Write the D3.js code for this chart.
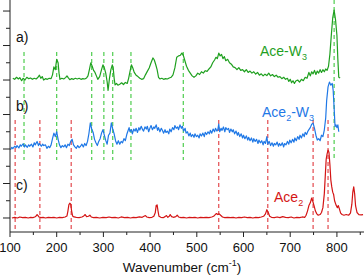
<!DOCTYPE html>
<html>
<head>
<meta charset="utf-8">
<title>Raman spectra</title>
<style>
  body { margin: 0; background: #fff; }
  svg { display: block; font-family: "Liberation Sans", Arial, sans-serif; }
</style>
<script src="https://d3js.org/d3.v7.min.js"></script>
</head>
<body>
<div id="chart"></div>
<script>

// spectra: [wavenumber, intensity above own baseline]
var aceW3 = [[106,0.05],[110,0.02],[114,0.08],[118,0.03],[121,0.07],[125,-0.02],[128,0.05],[132,0.0],[136,0.08],[140,0.04],[144,0.06],[148,0.02],[152,0.05],[156,0.03],[160,0.08],[163,0.14],[166,0.05],[169,0.1],[172,0.0],[176,0.04],[180,0.02],[184,0.05],[188,0.04],[191,0.15],[194,0.38],[197,0.3],[200,0.6],[203,0.5],[205,0.2],[207,0.02],[211,0.05],[215,0.03],[219,0.07],[222,0.12],[225,0.06],[228,0.01],[232,0.04],[236,0.02],[240,0.05],[244,0.03],[248,0.05],[252,0.02],[256,0.04],[260,0.03],[264,0.06],[267,0.12],[270,0.3],[273,0.5],[276,0.4],[279,0.28],[282,0.22],[285,0.12],[288,0.02],[292,0.1],[296,0.3],[299,0.44],[302,0.35],[305,0.2],[308,-0.05],[310,-0.3],[313,0.05],[316,0.3],[319,0.44],[321,0.35],[323,0.05],[325,-0.14],[328,-0.1],[331,-0.15],[335,-0.12],[339,-0.08],[343,-0.13],[347,-0.07],[351,-0.1],[354,0.05],[357,0.25],[360,0.44],[363,0.35],[366,0.22],[370,0.14],[374,0.1],[378,0.05],[382,0.02],[386,0.04],[390,0.15],[394,0.25],[398,0.35],[402,0.5],[406,0.64],[409,0.58],[412,0.45],[415,0.3],[418,0.08],[421,0.03],[425,0.05],[429,0.02],[433,0.04],[437,0.03],[441,0.06],[445,0.08],[449,0.15],[453,0.35],[457,0.66],[461,0.7],[465,0.72],[468,0.78],[471,0.72],[474,0.58],[478,0.4],[482,0.28],[486,0.2],[490,0.12],[494,0.08],[498,0.12],[502,0.2],[506,0.16],[510,0.24],[514,0.2],[518,0.27],[522,0.25],[526,0.32],[530,0.38],[534,0.5],[538,0.58],[541,0.66],[544,0.62],[547,0.78],[550,0.7],[553,0.74],[556,0.62],[559,0.68],[562,0.56],[566,0.6],[570,0.5],[574,0.46],[578,0.38],[582,0.36],[586,0.3],[590,0.36],[594,0.28],[598,0.3],[602,0.24],[606,0.3],[610,0.22],[614,0.26],[618,0.2],[622,0.24],[626,0.17],[630,0.22],[634,0.14],[638,0.18],[642,0.12],[646,0.17],[650,0.13],[654,0.2],[658,0.12],[662,0.16],[666,0.1],[670,0.14],[674,0.08],[678,0.1],[682,0.04],[686,0.08],[690,0.02],[694,0.05],[697,-0.04],[700,0.02],[703,-0.08],[706,-0.02],[709,-0.1],[712,-0.03],[716,0.0],[720,-0.06],[724,0.02],[728,-0.02],[732,0.08],[736,0.05],[740,0.22],[743,0.12],[746,0.24],[749,0.18],[752,0.28],[755,0.16],[758,0.26],[761,0.2],[764,0.3],[767,0.22],[770,0.3],[773,0.24],[776,0.32],[779,0.28],[782,0.4],[785,0.75],[788,1.3],[791,1.8],[794,2.03],[797,1.75],[800,1.3],[802,0.6],[804,0.08],[807,0.06]];

var ace2W3 = [[101,-0.02],[104,0.05],[106,0.01],[110,0.08],[113,0.04],[115,0.1],[119,0.03],[122,0.12],[124,0.08],[128,0.15],[131,0.06],[133,0.12],[137,0.05],[140,0.12],[142,0.08],[146,0.14],[149,0.06],[152,0.18],[154,0.12],[158,0.22],[161,0.1],[163,0.16],[167,0.08],[170,0.14],[172,0.1],[176,0.12],[179,0.02],[182,0.08],[185,0.04],[188,0.12],[191,0.3],[194,0.46],[197,0.36],[200,0.5],[203,0.28],[206,0.12],[209,0.04],[212,0.1],[215,0.06],[218,0.12],[221,0.04],[224,0.14],[227,0.1],[230,0.22],[233,0.28],[236,0.12],[239,0.06],[242,0.02],[245,0.1],[248,0.04],[251,0.08],[254,0.14],[257,0.06],[260,0.16],[263,0.1],[266,0.22],[269,0.45],[272,0.76],[275,0.58],[278,0.48],[281,0.28],[284,0.18],[287,0.1],[290,0.22],[293,0.3],[296,0.46],[299,0.56],[302,0.4],[305,0.25],[308,0.14],[311,0.4],[314,0.46],[317,0.76],[320,0.58],[323,0.44],[326,0.24],[329,0.14],[332,0.24],[335,0.14],[338,0.22],[341,0.18],[344,0.3],[347,0.24],[350,0.42],[352,0.5],[355,0.62],[357,0.5],[360,0.56],[362,0.44],[365,0.58],[368,0.52],[370,0.6],[373,0.48],[376,0.62],[378,0.55],[381,0.66],[384,0.56],[386,0.52],[389,0.64],[392,0.58],[394,0.66],[397,0.5],[400,0.62],[402,0.68],[405,0.56],[408,0.64],[410,0.6],[413,0.7],[416,0.54],[418,0.62],[421,0.5],[424,0.6],[426,0.55],[429,0.46],[432,0.56],[434,0.48],[437,0.52],[440,0.44],[442,0.58],[445,0.5],[448,0.62],[451,0.56],[453,0.68],[456,0.6],[459,0.64],[461,0.56],[464,0.7],[467,0.6],[469,0.66],[472,0.52],[475,0.6],[477,0.46],[480,0.5],[483,0.38],[486,0.46],[488,0.36],[491,0.42],[494,0.34],[496,0.44],[499,0.36],[502,0.4],[505,0.32],[507,0.44],[510,0.38],[513,0.46],[516,0.36],[518,0.48],[521,0.42],[524,0.5],[527,0.44],[529,0.54],[532,0.46],[535,0.58],[538,0.5],[540,0.6],[543,0.52],[545,0.56],[547,0.72],[549,0.5],[552,0.6],[554,0.54],[557,0.64],[560,0.5],[562,0.62],[565,0.56],[568,0.6],[570,0.48],[573,0.58],[576,0.5],[578,0.56],[581,0.44],[584,0.52],[587,0.4],[589,0.48],[592,0.36],[595,0.44],[598,0.32],[600,0.4],[603,0.3],[606,0.38],[609,0.26],[611,0.34],[614,0.24],[617,0.32],[620,0.2],[622,0.3],[625,0.22],[628,0.28],[631,0.16],[633,0.26],[636,0.18],[639,0.24],[642,0.12],[644,0.22],[647,0.16],[650,0.36],[652,0.14],[655,0.22],[658,0.1],[661,0.18],[664,0.08],[666,0.16],[669,0.12],[672,0.2],[675,0.08],[677,0.16],[680,0.1],[683,0.18],[686,0.06],[688,0.16],[691,0.12],[694,0.22],[697,0.14],[699,0.26],[702,0.18],[705,0.28],[708,0.2],[710,0.32],[713,0.24],[716,0.36],[719,0.28],[721,0.4],[724,0.32],[727,0.44],[730,0.36],[732,0.48],[735,0.42],[738,0.52],[740,0.56],[743,0.62],[746,0.72],[749,0.75],[752,0.6],[755,0.4],[758,0.26],[761,0.3],[764,0.24],[767,0.4],[770,0.36],[773,0.55],[776,0.9],[778,1.4],[781,1.8],[784,1.94],[787,1.85],[790,1.9],[792,1.7],[794,1.2],[796,0.65],[798,0.7],[800,0.62],[802,0.7],[804,0.5]];

var ace2 = [[104,0.0],[110,0.02],[116,0.0],[121,0.03],[127,0.01],[133,0.02],[139,0.0],[144,0.02],[149,0.01],[153,0.03],[156,0.06],[158,0.1],[160,0.07],[162,0.03],[166,0.01],[171,0.02],[176,0.0],[182,0.02],[188,0.01],[194,0.02],[200,0.0],[206,0.02],[212,0.01],[218,0.03],[222,0.06],[224,0.2],[226,0.38],[228,0.43],[230,0.4],[232,0.2],[234,0.06],[237,0.03],[242,0.02],[248,0.01],[254,0.03],[258,0.06],[261,0.1],[264,0.04],[268,0.05],[271,0.08],[274,0.03],[279,0.01],[285,0.02],[292,0.0],[299,0.02],[306,0.01],[312,0.03],[318,0.01],[325,0.02],[332,0.0],[338,0.03],[345,0.01],[352,0.02],[358,0.0],[364,0.02],[370,0.01],[377,0.03],[383,0.02],[387,0.05],[390,0.07],[393,0.03],[398,0.01],[404,0.02],[408,0.05],[411,0.15],[413,0.36],[415,0.38],[417,0.2],[419,0.05],[423,0.02],[428,0.01],[432,0.04],[435,0.07],[438,0.02],[441,0.05],[443,0.1],[446,0.04],[450,0.02],[455,0.04],[458,0.08],[461,0.03],[466,0.01],[472,0.02],[478,0.0],[484,0.02],[490,0.01],[496,0.02],[502,0.0],[508,0.02],[514,0.01],[520,0.02],[526,0.01],[532,0.03],[536,0.05],[539,0.09],[542,0.13],[545,0.1],[548,0.12],[551,0.08],[555,0.03],[560,0.01],[566,0.02],[572,0.01],[578,0.02],[584,0.0],[590,0.02],[596,0.01],[602,0.03],[608,0.01],[614,0.02],[620,0.0],[626,0.02],[632,0.01],[638,0.03],[643,0.05],[647,0.12],[650,0.24],[653,0.16],[656,0.05],[660,0.02],[666,0.01],[672,0.03],[678,0.01],[684,0.04],[690,0.02],[696,0.01],[702,0.03],[708,0.0],[714,0.02],[720,0.01],[726,0.03],[731,0.02],[734,0.08],[737,0.2],[740,0.36],[743,0.44],[746,0.58],[748,0.5],[751,0.36],[754,0.2],[757,0.12],[760,0.08],[764,0.1],[767,0.16],[770,0.3],[773,0.7],[775,1.2],[777,1.7],[779,1.86],[781,1.97],[783,1.9],[785,1.55],[787,1.1],[789,0.9],[791,0.75],[793,0.68],[795,0.5],[798,0.38],[801,0.3],[803,0.36],[805,0.28],[808,0.14],[811,0.1],[815,0.08],[820,0.1],[825,0.08],[829,0.14],[832,0.4],[834,0.75],[836,0.9],[838,0.7],[840,0.35],[843,0.16],[847,0.1],[852,0.09],[856,0.1]];

var baselines = [4, 2, 0];
var seriesColors = ["#1fa01f", "#1f78e6", "#d41515"];

// marker lines (wavenumbers)
var greenMarkers = [130, 200, 275, 301, 320, 359, 471];
var greenTallMarker = [794];
var redMarkers = [111, 164, 231, 547, 652, 749, 781];

var xTicks = [100, 200, 300, 400, 500, 600, 700, 800];
var xMinorTicks = [150, 250, 350, 450, 550, 650, 750, 850];

var width = 364, height = 278;
var svg = d3.select("#chart").append("svg")
    .attr("width", width)
    .attr("height", height);

var x = d3.scaleLinear().domain([100, 858]).range([10, 364]);
var y = d3.scaleLinear().domain([-0.406, 6.32]).range([232, 0]);

// dashed marker lines
svg.selectAll(".gmark")
    .data(greenMarkers)
    .enter().append("line")
    .attr("x1", d => x(d)).attr("x2", d => x(d))
    .attr("y1", y(4.81)).attr("y2", y(1.68))
    .attr("stroke", "#3ec83e")
    .attr("stroke-width", 1.1)
    .attr("stroke-dasharray", "4,3");

svg.selectAll(".gtall")
    .data(greenTallMarker)
    .enter().append("line")
    .attr("x1", d => x(d)).attr("x2", d => x(d))
    .attr("y1", y(6.32)).attr("y2", y(1.74))
    .attr("stroke", "#3ec83e")
    .attr("stroke-width", 1.1)
    .attr("stroke-dasharray", "4,3");

svg.selectAll(".rmark")
    .data(redMarkers)
    .enter().append("line")
    .attr("x1", d => x(d)).attr("x2", d => x(d))
    .attr("y1", y(2.84)).attr("y2", y(-0.406))
    .attr("stroke", "#e0393e")
    .attr("stroke-width", 1.1)
    .attr("stroke-dasharray", "4,3");

// spectra
var allSeries = [aceW3, ace2W3, ace2];
allSeries.forEach(function(s, i) {
    var line = d3.line()
        .x(d => x(d[0]))
        .y(d => y(d[1] + baselines[i]));
    svg.append("path")
        .datum(s)
        .attr("d", line)
        .attr("fill", "none")
        .attr("stroke", seriesColors[i])
        .attr("stroke-width", 1.2)
        .attr("stroke-linejoin", "round");
});

// axes
var xAxis = svg.append("g").attr("transform", "translate(0,232)");
xAxis.append("line")
    .attr("x1", 10).attr("x2", 364)
    .attr("stroke", "#222");
xAxis.selectAll(".maj")
    .data(xTicks).enter().append("line")
    .attr("x1", d => x(d)).attr("x2", d => x(d))
    .attr("y1", 0).attr("y2", 5)
    .attr("stroke", "#222");
xAxis.selectAll(".min")
    .data(xMinorTicks).enter().append("line")
    .attr("x1", d => x(d)).attr("x2", d => x(d))
    .attr("y1", 0).attr("y2", 3)
    .attr("stroke", "#222");
xAxis.selectAll("text")
    .data(xTicks).enter().append("text")
    .attr("x", d => x(d))
    .attr("y", 20)
    .attr("text-anchor", "middle")
    .attr("font-size", 13)
    .attr("fill", "#111")
    .text(d => d);

var yMajor = d3.range(0, 6.5, 1);
var yMinor = d3.range(0.5, 6.5, 1);
var yAxis = svg.append("g");
yAxis.append("line")
    .attr("x1", 10).attr("x2", 10)
    .attr("y1", 0).attr("y2", 232)
    .attr("stroke", "#222");
yAxis.selectAll(".maj")
    .data(yMajor).enter().append("line")
    .attr("x1", 3).attr("x2", 10)
    .attr("y1", d => y(d)).attr("y2", d => y(d))
    .attr("stroke", "#222");
yAxis.selectAll(".min")
    .data(yMinor).enter().append("line")
    .attr("x1", 6).attr("x2", 10)
    .attr("y1", d => y(d)).attr("y2", d => y(d))
    .attr("stroke", "#222");

// axis title
var title = svg.append("text")
    .attr("x", 182).attr("y", 272)
    .attr("text-anchor", "middle")
    .attr("font-size", 13.5)
    .attr("fill", "#111");
title.append("tspan").text("Wavenumber (cm");
title.append("tspan").attr("font-size", 9).attr("dy", -6).text("-1");
title.append("tspan").attr("dy", 6).text(")");

// panel letters
[["a)", 42], ["b)", 111], ["c)", 190]].forEach(function(p) {
    svg.append("text")
        .attr("x", 16).attr("y", p[1])
        .attr("font-size", 14)
        .attr("fill", "#111")
        .text(p[0]);
});

// series labels
function label(parts, px, py, color) {
    var t = svg.append("text")
        .attr("x", px).attr("y", py)
        .attr("font-size", 14)
        .attr("fill", color);
    parts.forEach(function(p) {
        if (p[1]) {
            t.append("tspan").attr("font-size", 9).attr("dy", 4).text(p[0]);
        } else {
            t.append("tspan").attr("dy", p[2] || 0).text(p[0]);
        }
    });
}
label([["Ace-W"], ["3", true]], 260, 56, seriesColors[0]);
label([["Ace"], ["2", true], ["-W", false, -4], ["3", true]], 262, 117, seriesColors[1]);
label([["Ace"], ["2", true]], 274, 202, seriesColors[2]);

</script>
</body>
</html>
